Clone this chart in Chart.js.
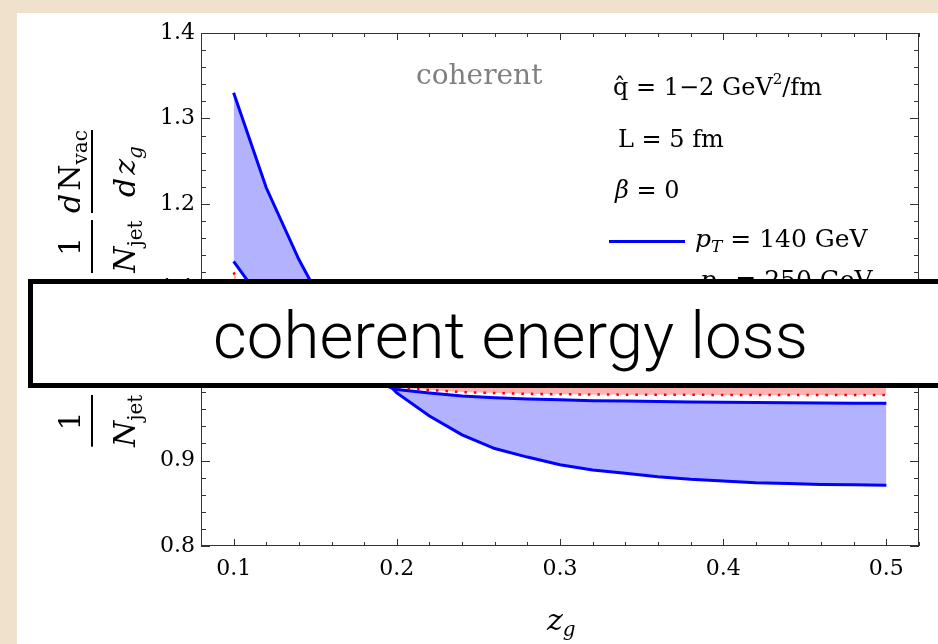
<!DOCTYPE html>
<html><head><meta charset="utf-8">
<script src="https://cdn.jsdelivr.net/npm/chart.js@4/dist/chart.umd.min.js"></script>
<style>
html,body{margin:0;padding:0;width:938px;height:644px;overflow:hidden;background:#f0e1cc;}
#panel{position:absolute;left:17px;top:13px;right:0;bottom:0;background:#fff;}
#c{position:absolute;left:0;top:0;}
</style></head><body>
<div id="panel"></div>
<canvas id="c" width="938" height="644"></canvas>
<script>
// ---- data ----
const zg = [0.10,0.12,0.14,0.16,0.18,0.20,0.22,0.24,0.26,0.28,0.30,0.32,0.34,0.36,0.38,0.40,0.42,0.44,0.46,0.48,0.50];
const pt140_qhat2 = [1.330,1.219,1.135,1.064,1.018,0.979,0.952,0.930,0.914,0.904,0.895,0.889,0.885,0.881,0.878,0.876,0.874,0.873,0.872,0.8715,0.871];
const pt140_qhat1 = [1.133,1.080,1.043,1.015,0.996,0.983,0.979,0.9755,0.9735,0.972,0.971,0.970,0.9695,0.969,0.9685,0.968,0.9678,0.9675,0.9672,0.967,0.967];
const pt250_qhat2 = [1.120,1.040,1.012,0.998,0.990,0.9855,0.9825,0.980,0.979,0.978,0.9775,0.9772,0.977,0.977,0.9768,0.9767,0.9766,0.9766,0.9766,0.9766,0.9766];
const pt250_qhat1 = [1.075,1.035,1.012,1.001,0.995,0.992,0.9905,0.990,0.9895,0.989,0.989,0.9888,0.9886,0.9885,0.9884,0.9883,0.9882,0.9882,0.9881,0.9881,0.988];
const xTickValues = [0.1,0.2,0.3,0.4,0.5];
const xTickLabels = ['0.1','0.2','0.3','0.4','0.5'];
const yTickValues = [0.8,0.9,1.0,1.1,1.2,1.3,1.4];
const yTickLabels = ['0.8','0.9','1.0','1.1','1.2','1.3','1.4'];
const xRange = [0.08,0.52];
const yRange = [0.8,1.4];
const minorStep = 0.02;
const regimeLabel = 'coherent';
const legendValues = ['140 GeV','250 GeV'];
const bannerText = 'coherent energy loss';

const SERIF = '"DejaVu Serif", "Liberation Serif", serif';
const F = (s, it) => (it ? 'italic ' : '') + s + 'px ' + SERIF;
const pts = arr => zg.map((x,i)=>({x:x, y:arr[i]}));

function runsWidth(ctx, runs){ let w=0; for(const r of runs){ctx.font=r.font; w+=ctx.measureText(r.t).width+(r.gap||0);} return w; }
function drawRuns(ctx, x, y, runs){ for(const r of runs){ ctx.font=r.font; ctx.fillText(r.t, x, y+(r.dy||0)); x+=ctx.measureText(r.t).width+(r.gap||0); } return x; }

// rotated fraction; yBottom/yTop are screen Y, barX screen X
function rfrac(ctx, yBottom, yTop, barX, numBase, denBase, num, den){
  const u0=-yBottom, len=yBottom-yTop;
  ctx.fillRect(u0, barX-1, len, 2);
  const wn=runsWidth(ctx,num), wd=runsWidth(ctx,den);
  drawRuns(ctx, u0+(len-wn)/2, numBase, num);
  drawRuns(ctx, u0+(len-wd)/2, denBase, den);
}

const decor = {
  id:'decor',
  afterDatasetsDraw(chart){
    const ctx=chart.ctx, a=chart.chartArea, xs=chart.scales.x, ys=chart.scales.y;
    ctx.save();
    ctx.strokeStyle='#333'; ctx.lineWidth=1;
    ctx.strokeRect(a.left+0.5, a.top+0.5, a.right-a.left-1, a.bottom-a.top-1);
    ctx.beginPath();
    const nx=Math.round((xRange[1]-xRange[0])/minorStep);
    for(let i=0;i<=nx;i++){
      const v=xRange[0]+i*minorStep, p=Math.round(xs.getPixelForValue(v))+0.5;
      const major=Math.abs(v*10-Math.round(v*10))<1e-6, L=major?7:4;
      ctx.moveTo(p,a.bottom); ctx.lineTo(p,a.bottom-L);
      ctx.moveTo(p,a.top); ctx.lineTo(p,a.top+L);
    }
    const ny=Math.round((yRange[1]-yRange[0])/minorStep);
    for(let i=0;i<=ny;i++){
      const v=yRange[0]+i*minorStep, p=Math.round(ys.getPixelForValue(v))+0.5;
      const major=Math.abs(v*10-Math.round(v*10))<1e-6, L=major?9:5;
      ctx.moveTo(a.left,p); ctx.lineTo(a.left+L,p);
      ctx.moveTo(a.right,p); ctx.lineTo(a.right-L,p);
    }
    ctx.stroke();
    ctx.restore();
  },
  afterDraw(chart){
    const ctx=chart.ctx;
    ctx.save();
    ctx.fillStyle='#000'; ctx.textBaseline='alphabetic'; ctx.textAlign='left';
    // regime label
    ctx.fillStyle='#808080'; ctx.font=F(28); ctx.fillText(regimeLabel, 416, 84);
    // parameter text
    ctx.fillStyle='#000';
    drawRuns(ctx, 613, 95, [{t:'q\u0302 = 1\u22122 GeV', font:F(24)},{t:'2',font:F(15),dy:-11},{t:'/fm',font:F(24)}]);
    drawRuns(ctx, 618, 147, [{t:'L = 5 fm', font:F(24)}]);
    drawRuns(ctx, 615, 198, [{t:'\u03B2', font:F(24,true)},{t:' = 0', font:F(24)}]);
    // legend
    ctx.strokeStyle='#0000ff'; ctx.lineWidth=3; ctx.beginPath(); ctx.moveTo(609,241.5); ctx.lineTo(685,241.5); ctx.stroke();
    drawRuns(ctx, 695, 247, [{t:'p',font:F(25,true)},{t:'T',font:F(17,true),dy:5},{t:' = '+legendValues[0],font:F(25)}]);
    ctx.strokeStyle='#ff0000'; ctx.lineWidth=2.5; ctx.setLineDash([2.5,7]); ctx.beginPath(); ctx.moveTo(609,283.5); ctx.lineTo(685,283.5); ctx.stroke(); ctx.setLineDash([]);
    drawRuns(ctx, 700, 288, [{t:'p',font:F(25,true)},{t:'T',font:F(17,true),dy:5},{t:' = '+legendValues[1],font:F(25)}]);
    // x axis title z_g
    drawRuns(ctx, 547, 630, [{t:'z',font:F(30,true)},{t:'g',font:F(20,true),dy:6}]);
    // y axis title (rotated)
    ctx.save();
    ctx.rotate(-Math.PI/2);
    const one=[{t:'1',font:F(30)}];
    const njet=[{t:'N',font:F(30,true)},{t:'jet',font:F(20),dy:7}];
    const dz=[{t:'d',font:F(30,true),gap:3},{t:'z',font:F(30,true)},{t:'g',font:F(20,true),dy:7}];
    rfrac(ctx, 446.7, 395, 92, 80, 135, one, njet);
    rfrac(ctx, 382, 300, 92, 80, 135, [{t:'d',font:F(30,true),gap:3},{t:'N',font:F(30,true)},{t:'med',font:F(20),dy:7}], dz);
    rfrac(ctx, 273, 220, 92, 80, 135, one, njet);
    rfrac(ctx, 213, 130, 92, 80, 135, [{t:'d',font:F(30,true),gap:3},{t:'N',font:F(30)},{t:'vac',font:F(20),dy:7}], dz);
    ctx.restore();
    // banner overlay
    ctx.fillStyle='#fff'; ctx.fillRect(28,279,920,109);
    ctx.strokeStyle='#000'; ctx.lineWidth=5; ctx.strokeRect(30.5,281.5,920,104);
    ctx.fillStyle='#000';
    let fs=64; ctx.font='300 '+fs+'px Roboto, "Open Sans", sans-serif';
    const w=ctx.measureText(bannerText).width; fs=fs*595/w;
    ctx.font='300 '+fs.toFixed(2)+'px Roboto, "Open Sans", sans-serif';
    ctx.fillText(bannerText, 213, 358);
    ctx.restore();
  }
};

new Chart(document.getElementById('c'), {
  type:'line',
  data:{ datasets:[
    {label:'pT=140 GeV, qhat=2', data:pts(pt140_qhat2), borderColor:'#0000ff', borderWidth:3, fill:'+1', backgroundColor:'rgba(0,0,255,0.3)', pointRadius:0, tension:0},
    {label:'pT=140 GeV, qhat=1', data:pts(pt140_qhat1), borderColor:'#0000ff', borderWidth:3, fill:false, pointRadius:0, tension:0},
    {label:'pT=250 GeV, qhat=2', data:pts(pt250_qhat2), borderColor:'#ff0000', borderWidth:2.5, borderDash:[2.5,7], fill:'+1', backgroundColor:'rgba(255,0,0,0.3)', pointRadius:0, tension:0},
    {label:'pT=250 GeV, qhat=1', data:pts(pt250_qhat1), borderColor:'#ff0000', borderWidth:2.5, borderDash:[2.5,7], fill:false, pointRadius:0, tension:0}
  ]},
  options:{
    responsive:false, devicePixelRatio:1, animation:false, events:[],
    layout:{padding:{left:0, top:33, right:19, bottom:0}},
    plugins:{legend:{display:false}, tooltip:{enabled:false}},
    scales:{
      x:{type:'linear', min:xRange[0], max:xRange[1],
        grid:{display:false, drawTicks:false}, border:{display:false},
        afterBuildTicks:s=>{ s.ticks=xTickValues.map(v=>({value:v})); },
        afterFit:s=>{ s.height=98; },
        ticks:{autoSkip:false, maxRotation:0, padding:10, color:'#000', font:{family:'DejaVu Serif', size:22}, callback:(v,i)=>xTickLabels[i]}},
      y:{type:'linear', min:yRange[0], max:yRange[1],
        grid:{display:false, drawTicks:false}, border:{display:false},
        afterBuildTicks:s=>{ s.ticks=yTickValues.map(v=>({value:v})); },
        afterFit:s=>{ s.width=201; },
        ticks:{autoSkip:false, padding:6, color:'#000', font:{family:'DejaVu Serif', size:22}, callback:(v,i)=>yTickLabels[i]}}
    }
  },
  plugins:[decor]
});
</script>
</body></html>
